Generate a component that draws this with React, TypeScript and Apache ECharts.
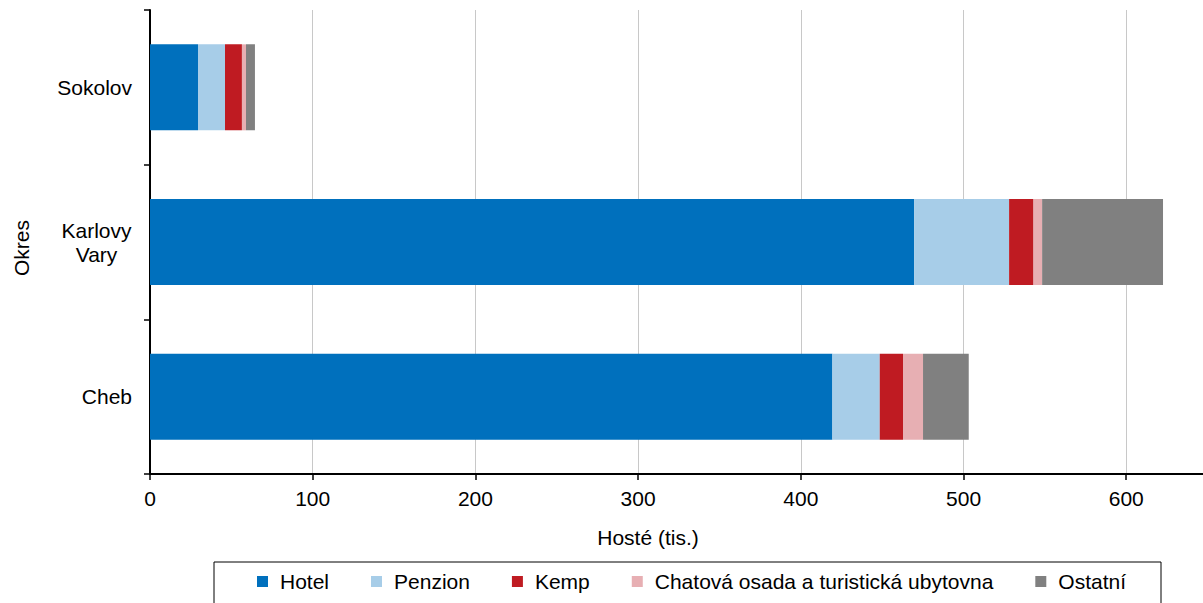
import React, { useEffect, useRef } from "react";
import * as echarts from "echarts";

const categories = ["Cheb", "Karlovy Vary", "Sokolov"];
const seriesNames = ["Hotel", "Penzion", "Kemp", "Chatová osada a turistická ubytovna", "Ostatní"];
const hotel = [419.4, 469.6, 29.5];
const penzion = [29.1, 58.4, 16.6];
const kemp = [14.3, 15.0, 10.4];
const chatova = [12.3, 5.3, 2.5];
const ostatni = [28.1, 74.3, 5.5];
const colors = ["#0070BD", "#A7CDE8", "#BF1B22", "#E7AFB3", "#808080"];
const xTitle = "Hosté (tis.)";
const yTitle = "Okres";

const FONT = "'Liberation Sans', Arial, sans-serif";

export default function App() {
  const ref = useRef<HTMLDivElement>(null);
  useEffect(() => {
    if (!ref.current) return;
    const chart = echarts.init(ref.current, undefined, { renderer: "svg" });
    const values = [hotel, penzion, kemp, chatova, ostatni];
    chart.setOption({
      animation: false,
      textStyle: { fontFamily: FONT, color: "#000" },
      grid: {
        left: 150,
        top: 10,
        width: 1057.6,
        height: 464,
        containLabel: false,
        outerBoundsMode: "none",
      },
      xAxis: {
        type: "value",
        min: 0,
        max: 650,
        interval: 100,
        axisLine: { show: true, lineStyle: { color: "#000", width: 2 } },
        axisTick: { show: true, length: 6, lineStyle: { color: "#000", width: 1.5 } },
        axisLabel: {
          margin: 14,
          fontSize: 21,
          color: "#000",
          fontFamily: FONT,
          formatter: (v: number) => (v % 100 === 0 ? String(v) : ""),
        },
        splitLine: { show: true, lineStyle: { color: "#C8C8C8", width: 1 } },
      },
      yAxis: {
        type: "category",
        data: categories,
        axisLine: { show: true, lineStyle: { color: "#000", width: 2 } },
        axisTick: { show: true, length: 6, lineStyle: { color: "#000", width: 1.5 } },
        axisLabel: {
          margin: 18,
          fontSize: 21,
          color: "#000",
          fontFamily: FONT,
          formatter: (v: string) => {
            if (v.indexOf(" ") >= 0) {
              return v
                .split(" ")
                .map((p) => "{c|" + p + "}")
                .join("\n");
            }
            return v;
          },
          rich: {
            c: {
              width: 71,
              align: "center",
              fontSize: 21,
              lineHeight: 24,
              fontFamily: FONT,
              color: "#000",
            },
          },
        },
        splitLine: { show: false },
      },
      legend: {
        left: 214,
        top: 562,
        orient: "horizontal",
        data: seriesNames,
        icon: "rect",
        itemWidth: 11,
        itemHeight: 11,
        itemGap: 42,
        padding: [9, 35, 30, 43],
        borderColor: "#000",
        borderWidth: 1,
        textStyle: {
          fontSize: 21,
          color: "#000",
          fontFamily: FONT,
          padding: [0, 0, 0, 7],
        },
      },
      graphic: [
        {
          type: "text",
          x: 21,
          y: 248,
          rotation: Math.PI / 2,
          style: {
            text: yTitle,
            fontSize: 21,
            fontFamily: FONT,
            fill: "#000",
            align: "center",
            verticalAlign: "middle",
          },
        },
        {
          type: "text",
          x: 648,
          y: 537,
          style: {
            text: xTitle,
            fontSize: 21,
            fontFamily: FONT,
            fill: "#000",
            align: "center",
            verticalAlign: "middle",
          },
        },
      ],
      series: seriesNames.map((name, i) => ({
        name,
        type: "bar",
        stack: "total",
        barWidth: 86,
        data: values[i],
        itemStyle: { color: colors[i] },
        emphasis: { disabled: true },
      })),
    });
    return () => chart.dispose();
  }, []);
  return (
    <div
      ref={ref}
      style={{ position: "absolute", left: 0, top: 0, width: 1203, height: 603 }}
    />
  );
}
